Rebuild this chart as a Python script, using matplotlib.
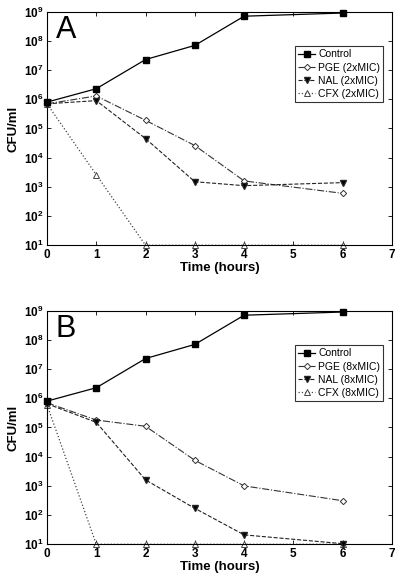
import matplotlib
matplotlib.use("Agg")
import matplotlib.pyplot as plt
from matplotlib.ticker import LogLocator, NullLocator

plt.rcParams["font.family"] = ["Liberation Sans", "DejaVu Sans"]

hours = [0, 1, 2, 3, 4, 6]

control = [8e5, 2.3e6, 2.3e7, 7e7, 7e8, 9e8]

pge_2x = [7e5, 1.3e6, 1.9e5, 2.6e4, 1.6e3, 6e2]
nal_2x = [7e5, 9e5, 4.5e4, 1.5e3, 1.1e3, 1.4e3]
cfx_2x = [7e5, 2.6e3, 10, 10, 10, 10]

pge_8x = [7e5, 1.8e5, 1.1e5, 7.5e3, 1e3, 3.1e2]
nal_8x = [6.5e5, 1.5e5, 1.6e3, 1.7e2, 21, 10.5]
cfx_8x = [6e5, 10, 10, 10, 10, 10]

panels = [
    ("A", "2xMIC", pge_2x, nal_2x, cfx_2x, [0.1175, 0.58, 0.8625, 0.40]),
    ("B", "8xMIC", pge_8x, nal_8x, cfx_8x, [0.1175, 0.068, 0.8625, 0.40]),
]

fig = plt.figure(figsize=(4.0, 5.84), dpi=100)

for letter, dose, pge, nal, cfx, rect in panels:
    ax = fig.add_axes(rect)
    ax.plot(hours, control, "-", color="black", lw=0.9, marker="s", ms=4.5,
            mfc="black", label="Control", clip_on=False, zorder=4)
    ax.plot(hours, pge, "-.", color="#333333", lw=0.8, marker="D", ms=3.2,
            mfc="white", mew=0.7, label=f"PGE ({dose})", clip_on=False, zorder=3)
    ax.plot(hours, nal, "--", color="#222222", lw=0.8, marker="v", ms=4.5,
            mfc="black", label=f"NAL ({dose})", clip_on=False, zorder=3)
    ax.plot(hours, cfx, ":", color="#444444", lw=0.9, marker="^", ms=4.5,
            mfc="white", mew=0.7, label=f"CFX ({dose})", clip_on=False, zorder=2)

    ax.set_yscale("log")
    ax.set_ylim(10, 1e9)
    ax.set_xlim(0, 7)
    ax.set_xticks(range(8))
    ax.yaxis.set_major_locator(LogLocator(base=10, numticks=20))
    ax.yaxis.set_minor_locator(NullLocator())
    ax.tick_params(direction="in", top=True, right=True, length=3, width=0.6,
                   labelsize=8.5, pad=2.5)
    for lbl in ax.get_xticklabels() + ax.get_yticklabels():
        lbl.set_fontweight("bold")
    for sp in ax.spines.values():
        sp.set_linewidth(0.8)

    ax.set_xlabel("Time (hours)", fontsize=9.5, fontweight="bold", labelpad=1)
    ax.set_ylabel("CFU/ml", fontsize=9.5, fontweight="bold", labelpad=3)
    ax.text(0.025, 0.985, letter, transform=ax.transAxes, fontsize=22,
            va="top", ha="left")

    leg = ax.legend(loc="upper right", bbox_to_anchor=(0.975, 0.852),
                    fontsize=7.5, frameon=True, fancybox=False,
                    edgecolor="black", handlelength=1.6, handletextpad=0.3,
                    borderpad=0.3, labelspacing=0.3, borderaxespad=0.0)
    leg.get_frame().set_linewidth(0.8)

fig.savefig("out.png", dpi=100)
